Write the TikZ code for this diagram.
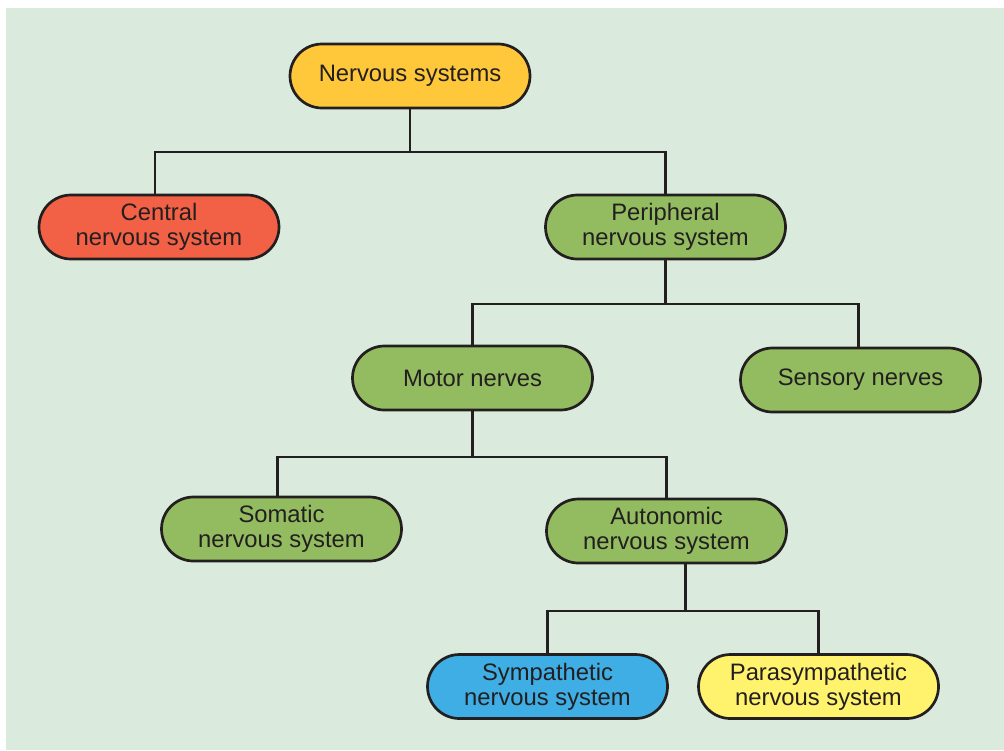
\documentclass[tikz,border=0pt]{standalone}
\usepackage{fontspec}
\setmainfont{Liberation Sans}
\usepackage{xcolor}
\usepackage{tikz}
\usetikzlibrary{positioning}
\definecolor{panel}{RGB}{218, 235, 221}
\definecolor{inkdark}{RGB}{35, 31, 32}
\definecolor{rootfill}{RGB}{255, 200, 58}
\definecolor{cnsfill}{RGB}{242, 96, 70}
\definecolor{pnsfill}{RGB}{147, 188, 96}
\definecolor{symfill}{RGB}{62, 174, 228}
\definecolor{parafill}{RGB}{255, 243, 110}

\begin{document}
\begin{tikzpicture}[
    x=0.5pt, y=-0.5pt,
    box/.style={rectangle, rounded corners=16pt, minimum width=120pt,
                minimum height=32pt, align=center, draw=inkdark, line width=1.35pt,
                text=inkdark, font=\fontsize{11.9}{12.4}\selectfont},
    rootbox/.style={box, fill=rootfill},
    cnsbox/.style={box, fill=cnsfill},
    pnsbox/.style={box, fill=pnsfill},
    symbox/.style={box, fill=symfill},
    parabox/.style={box, fill=parafill},
    link/.style={draw=inkdark, line width=1.1pt},
]

% panel and margins
\useasboundingbox (0,0) rectangle (1004,750);
\fill[panel] (6,8) rectangle (1004,750);

\node[rootbox] (nervous)    at (410,76)    {Nervous systems};
\node[cnsbox]  (central)    at (159,227)   {Central\\nervous system};
\node[pnsbox]  (peripheral) at (665.5,227) {Peripheral\\nervous system};
\node[pnsbox]  (motor)      at (472.5,378) {Motor nerves};
\node[pnsbox]  (sensory)    at (860.5,380) {Sensory nerves};
\node[pnsbox]  (somatic)    at (281.5,529) {Somatic\\nervous system};
\node[pnsbox]  (autonomic)  at (666.5,531) {Autonomic\\nervous system};
\node[symbox]  (sympathetic)     at (547.5,686.5) {Sympathetic\\nervous system};
\node[parabox] (parasympathetic) at (818.5,686.5) {Parasympathetic\\nervous system};

\draw[link] (nervous.south) -- ++(0,42.5) -| ([xshift=-2pt]central.north);
\draw[link] (nervous.south) -- ++(0,42.5) -| (peripheral.north);
\draw[link] (peripheral.south) -- ++(0,44) -| (motor.north);
\draw[link] (peripheral.south) -- ++(0,44) -| ([xshift=-1pt]sensory.north);
\draw[link] (motor.south) -- ++(0,46) -| ([xshift=-2pt]somatic.north);
\draw[link] (motor.south) -- ++(0,46) -| (autonomic.north);
\draw[link] ([xshift=9.5pt]autonomic.south) -- ++(0,47) -| (sympathetic.north);
\draw[link] ([xshift=9.5pt]autonomic.south) -- ++(0,47) -| (parasympathetic.north);

\end{tikzpicture}
\end{document}
